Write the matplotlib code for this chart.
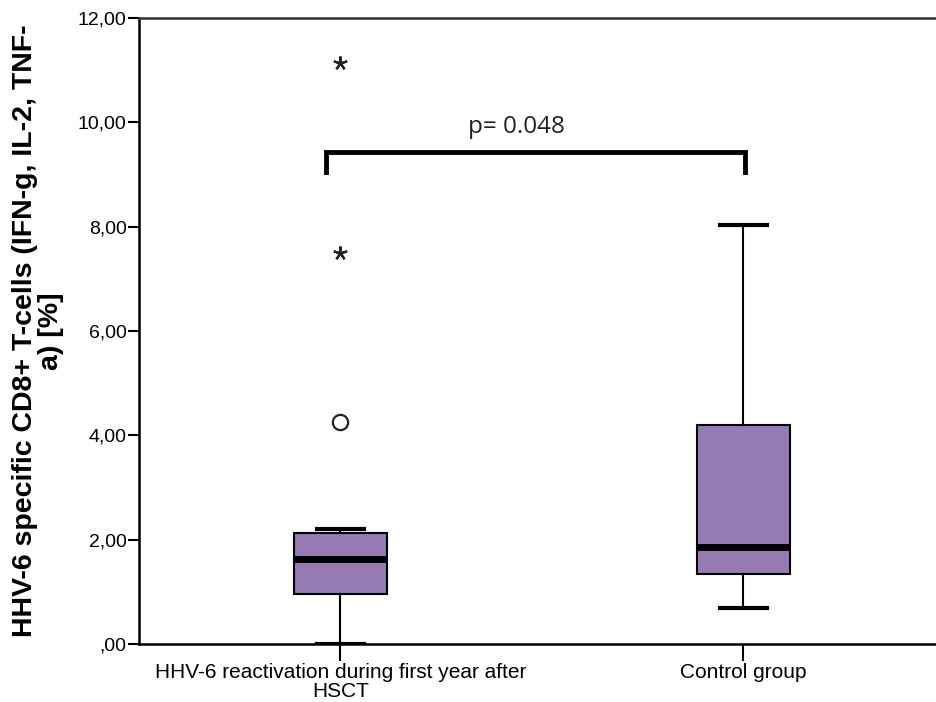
import matplotlib.pyplot as plt
from matplotlib.ticker import FuncFormatter

plt.rcParams['font.family'] = ['Liberation Sans', 'DejaVu Sans']

# box statistics
groups = ["HHV-6 reactivation during first year after\nHSCT", "Control group"]
q1 = [0.96, 1.34]
med = [1.63, 1.86]
q3 = [2.13, 4.20]
whislo = [0.00, 0.69]
whishi = [2.20, 8.03]

# outliers: circle = mild, star = extreme
mild_x = [1]
mild_y = [4.26]
extreme_x = [1, 1]
extreme_y = [7.49, 11.14]

p_text = "p= 0.048"
yticks = [0, 2, 4, 6, 8, 10, 12]

box_color = "#957ab4"

fig = plt.figure(figsize=(9.36, 7.02), dpi=100)
ax = fig.add_axes([139/936, 58/702, 1 - 139/936, 626/702])

stats = []
for i in range(len(groups)):
    stats.append(dict(med=med[i], q1=q1[i], q3=q3[i],
                      whislo=whislo[i], whishi=whishi[i], fliers=[]))

ax.bxp(stats, positions=[1, 2], widths=0.23, patch_artist=True,
       showfliers=False,
       boxprops=dict(facecolor=box_color, edgecolor="black", linewidth=1.5),
       medianprops=dict(color="black", linewidth=5, solid_capstyle="butt"),
       whiskerprops=dict(color="black", linewidth=1.5),
       capprops=dict(color="black", linewidth=3),
       capwidths=0.117)

ax.plot(mild_x, mild_y, linestyle="none", marker="o", markersize=11,
        markerfacecolor="none", markeredgecolor="#222222", markeredgewidth=1.6)
ax.plot(extreme_x, extreme_y, linestyle="none", marker=(5, 2, 0), markersize=10,
        color="#222222", markeredgewidth=1.6)

# significance bracket
bx0, bx1, by, bdrop = 0.963, 2.005, 9.43, 0.38
ax.plot([bx0, bx0, bx1, bx1], [by - bdrop, by, by, by - bdrop],
        color="black", linewidth=3.5, solid_joinstyle="miter")
ax.text(1.437, 9.91, p_text, ha="center", va="center",
        fontsize=17.5, family=["Open Sans", "DejaVu Sans"], color="#222222")

ax.set_xlim(0.5, 2.478)
ax.set_ylim(0, 12)
ax.set_xticks([1, 2])
ax.set_xticklabels(groups, fontsize=15, linespacing=0.95)
ax.set_yticks(yticks)
ax.yaxis.set_major_formatter(FuncFormatter(
    lambda v, pos: ",00" if v == 0 else f"{v:.2f}".replace(".", ",")))
ax.tick_params(axis="y", labelsize=14, length=8, width=1.5, pad=1, colors="black")
ax.tick_params(axis="x", length=12, width=1.5, pad=2)

for s in ["left", "bottom", "top"]:
    ax.spines[s].set_linewidth(1.8)
ax.spines["top"].set_color("#333333")
ax.spines["right"].set_visible(False)

ax.set_ylabel("HHV-6 specific CD8+ T-cells (IFN-g, IL-2, TNF-\na) [%]",
              fontsize=20.5, fontweight="bold", linespacing=1.0, ha="center", va="center")
ax.yaxis.set_label_coords(-0.127, 0.5)

fig.savefig("out.png", dpi=100)
